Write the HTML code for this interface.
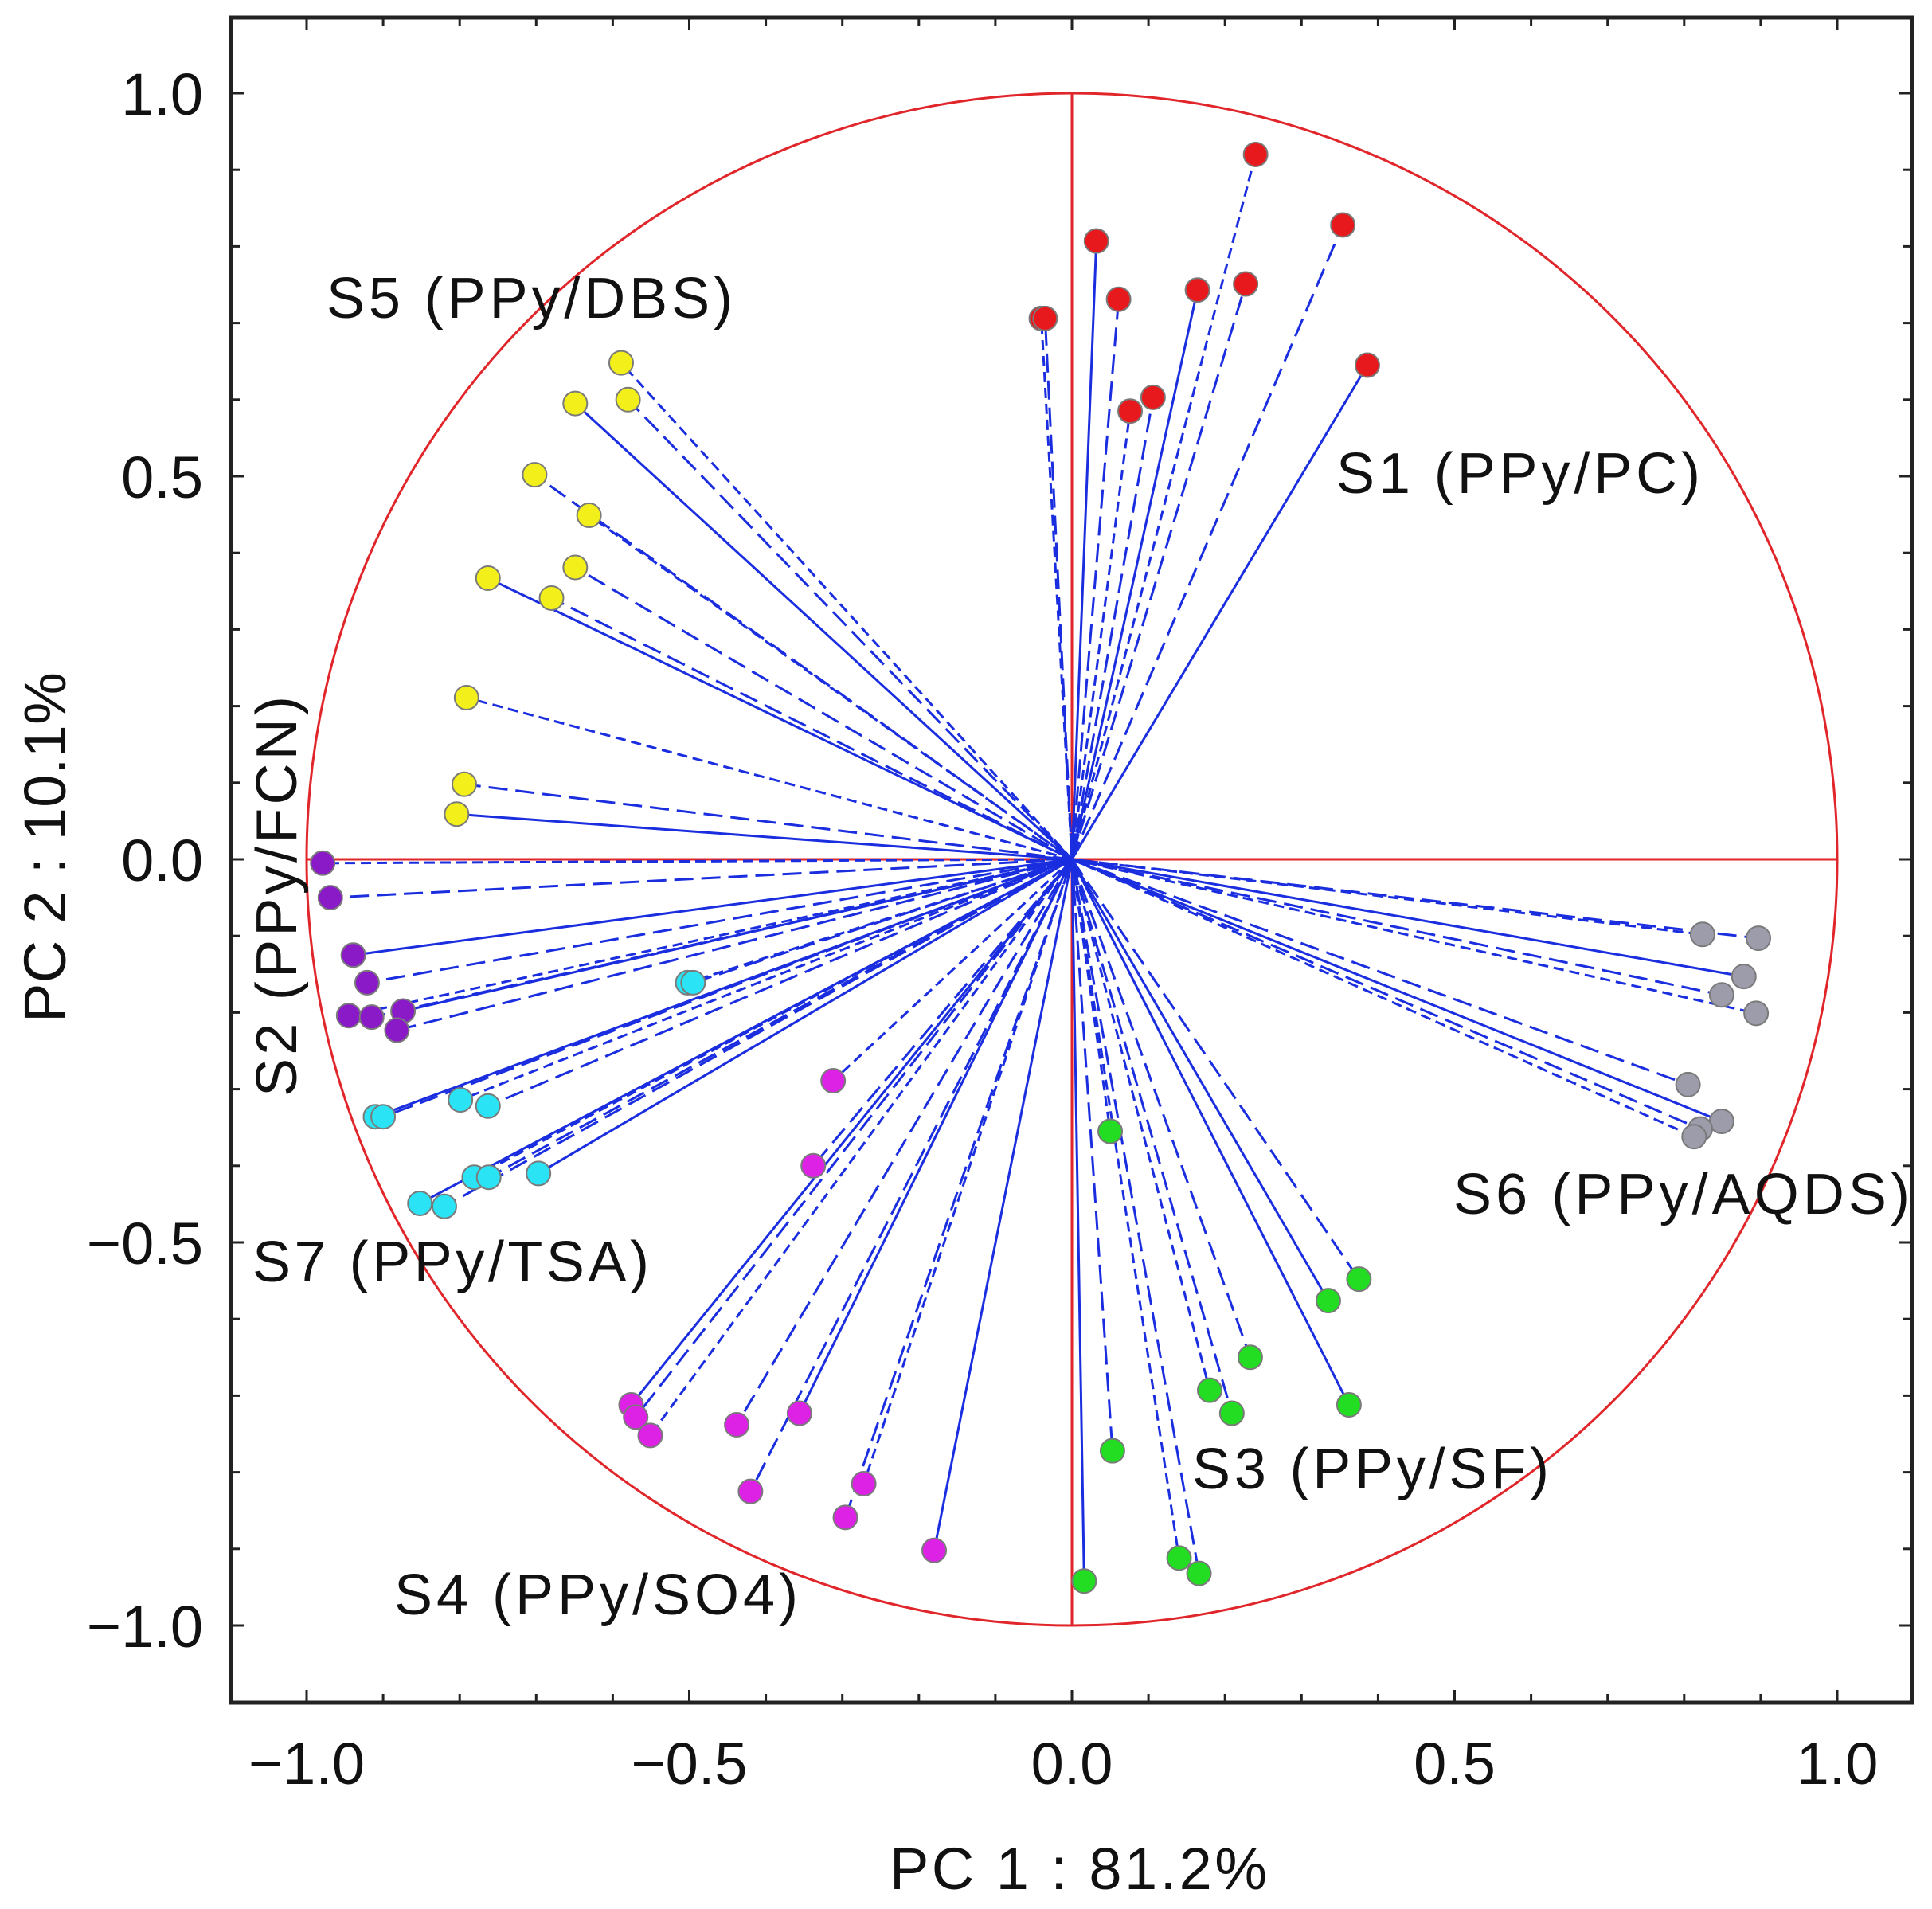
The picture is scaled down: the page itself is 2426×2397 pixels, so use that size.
<!DOCTYPE html>
<html><head><meta charset="utf-8"><style>
html,body{margin:0;padding:0;background:#fff}
svg{display:block}
text{font-family:"Liberation Sans",Arial,sans-serif;fill:#111}
</style></head><body>
<svg id="chart" width="2426" height="2397" viewBox="0 0 2426 2397" xmlns="http://www.w3.org/2000/svg">
<rect x="0" y="0" width="2426" height="2397" fill="#fff"/>
<g id="grid"></g>
<g id="vectors"></g>
<g id="points"></g>
<g id="axes"></g>
<text x="410" y="399" font-size="72" textLength="510">S5 (PPy/DBS)</text>
<text x="1678" y="619" font-size="72" textLength="457">S1 (PPy/PC)</text>
<text transform="translate(372,1377) rotate(-90)" x="0" y="0" font-size="72" textLength="503">S2 (PPy/FCN)</text>
<text x="1825" y="1524" font-size="72" textLength="573">S6 (PPy/AQDS)</text>
<text x="317" y="1609" font-size="72" textLength="498">S7 (PPy/TSA)</text>
<text x="1497" y="1869" font-size="72" textLength="448">S3 (PPy/SF)</text>
<text x="495" y="2027" font-size="72" textLength="507">S4 (PPy/SO4)</text>
<text x="1117" y="2372" font-size="74" textLength="474">PC 1 : 81.2%</text>
<text transform="translate(82,1284) rotate(-90)" x="0" y="0" font-size="74" textLength="440">PC 2 : 10.1%</text>
</svg>
<script>
const groups = ["S1","S5","S2","S7","S4","S3","S6"];
const groupColors = ["#e8191c","#f2ef1a","#8a19c8","#2ae4f6","#dd22e6","#22dd22","#9c9cab"];
const s1x = [-0.04,-0.035,0.032,0.061,0.076,0.106,0.164,0.227,0.24,0.354,0.386];
const s1y = [0.706,0.706,0.807,0.731,0.585,0.603,0.743,0.751,0.92,0.828,0.645];
const s5x = [-0.589,-0.58,-0.649,-0.702,-0.631,-0.649,-0.763,-0.68,-0.791,-0.794,-0.804];
const s5y = [0.648,0.6,0.595,0.502,0.449,0.381,0.367,0.341,0.211,0.098,0.059];
const s2x = [-0.979,-0.969,-0.939,-0.921,-0.945,-0.915,-0.874,-0.882];
const s2y = [-0.005,-0.05,-0.125,-0.161,-0.204,-0.206,-0.198,-0.223];
const s7x = [-0.502,-0.495,-0.91,-0.9,-0.799,-0.763,-0.852,-0.82,-0.781,-0.762,-0.697];
const s7y = [-0.161,-0.161,-0.336,-0.336,-0.314,-0.322,-0.449,-0.453,-0.415,-0.415,-0.41];
const s4x = [-0.312,-0.338,-0.576,-0.57,-0.551,-0.438,-0.356,-0.42,-0.272,-0.296,-0.18];
const s4y = [-0.289,-0.4,-0.712,-0.728,-0.752,-0.738,-0.723,-0.825,-0.815,-0.859,-0.902];
const s3x = [0.05,0.375,0.335,0.233,0.18,0.209,0.362,0.053,0.14,0.166,0.016];
const s3y = [-0.355,-0.548,-0.576,-0.65,-0.693,-0.723,-0.712,-0.772,-0.912,-0.932,-0.942];
const s6x = [0.824,0.897,0.878,0.849,0.894,0.805,0.849,0.821,0.813];
const s6y = [-0.098,-0.103,-0.153,-0.177,-0.201,-0.294,-0.342,-0.352,-0.362];
const xTicks = [-1.0,-0.5,0.0,0.5,1.0];
const yTicks = [1.0,0.5,0.0,-0.5,-1.0];
const xTickLabels = ["\u22121.0","\u22120.5","0.0","0.5","1.0"];
const yTickLabels = ["1.0","0.5","0.0","\u22120.5","\u22121.0"];

const NS="http://www.w3.org/2000/svg";
const X0=1346, XU=961, Y0=1079, YU=962;
const L=290, R=2401, T=22, B=2138;
function sx(v){return X0+v*XU;}
function sy(v){return Y0-v*YU;}
function mk(tag,attrs,parent){const e=document.createElementNS(NS,tag);for(const k in attrs)e.setAttribute(k,attrs[k]);parent.appendChild(e);return e;}

const grid=document.getElementById('grid');
let c=mk('ellipse',{cx:sx(0),cy:sy(0),rx:XU,ry:YU,fill:'none',stroke:'#e0262a','stroke-width':3},grid);


let h=mk('line',{x1:sx(-1),y1:sy(0),x2:sx(1),y2:sy(0),stroke:'#e0262a','stroke-width':3},grid);


let v=mk('line',{x1:sx(0),y1:sy(1),x2:sx(0),y2:sy(-1),stroke:'#e0262a','stroke-width':3},grid);



const xs=[s1x,s5x,s2x,s7x,s4x,s3x,s6x], ys=[s1y,s5y,s2y,s7y,s4y,s3y,s6y];
const vec=document.getElementById('vectors'), pts=document.getElementById('points');
xs.forEach((arr,g)=>{
  arr.forEach((xv,i)=>{
    const yv=ys[g][i];
    const ln=mk('line',{x1:sx(0),y1:sy(0),x2:sx(xv),y2:sy(yv),stroke:'#1a2ee0','stroke-width':3,'stroke-dasharray':(i%4===2)?'none':(i%2?'24 10':'13 7')},vec);
    
    
  });
});
xs.forEach((arr,g)=>{
  arr.forEach((xv,i)=>{
    const yv=ys[g][i];
    const p=mk('circle',{cx:sx(xv),cy:sy(yv),r:15,fill:groupColors[g],stroke:'#7a7a7a','stroke-width':2},pts);
    
    
  });
});

const ax=document.getElementById('axes');
let fr=mk('rect',{x:L,y:T,width:R-L,height:B-T,fill:'none',stroke:'#222','stroke-width':5},ax);


for(let k=-10;k<=11;k++){
  const val=k/10, px=sx(val); if(px<=L+2||px>=R-2) continue;
  const len=(k%5===0)?16:11;
  mk('line',{x1:px,y1:B,x2:px,y2:B-len,stroke:'#222','stroke-width':3},ax);
  mk('line',{x1:px,y1:T,x2:px,y2:T+len,stroke:'#222','stroke-width':3},ax);
}
for(let k=-11;k<=11;k++){
  const val=k/10, py=sy(val); if(py<=T+2||py>=B-2) continue;
  const len=(k%5===0)?16:11;
  mk('line',{x1:L,y1:py,x2:L+len,y2:py,stroke:'#222','stroke-width':3},ax);
  mk('line',{x1:R,y1:py,x2:R-len,y2:py,stroke:'#222','stroke-width':3},ax);
}
xTicks.forEach((t,i)=>{
  const tx=mk('text',{x:sx(t),y:2240,'font-size':74,'text-anchor':'middle'},ax);
  tx.textContent=xTickLabels[i];
  
  
});
yTicks.forEach((t,i)=>{
  const ty=mk('text',{x:255,y:sy(t)+27,'font-size':74,'text-anchor':'end'},ax);
  ty.textContent=yTickLabels[i];
  
  
});
</script>
</body></html>
